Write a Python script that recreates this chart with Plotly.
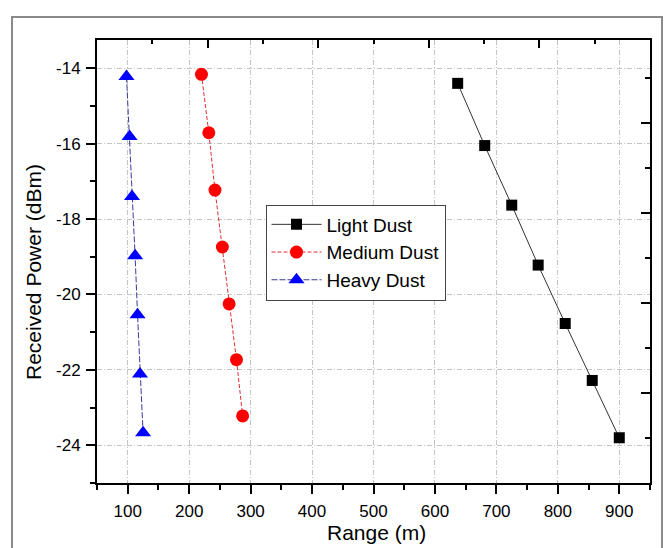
import plotly.graph_objects as go

# Received power versus link range for three dust densities
light_range = [637, 681, 725, 768, 812, 856, 900]
light_power = [-14.40, -16.05, -17.63, -19.22, -20.77, -22.28, -23.80]

medium_range = [220, 232, 242, 254, 265, 277, 287]
medium_power = [-14.16, -15.71, -17.23, -18.74, -20.25, -21.73, -23.22]

heavy_range = [98, 103, 107, 112, 116, 120, 125]
heavy_power = [-14.22, -15.81, -17.40, -18.97, -20.54, -22.11, -23.67]

x_ticks = [100, 200, 300, 400, 500, 600, 700, 800, 900]
x_ticktext = ["100", "200", "300", "400", "500", "600", "700", "800", "900"]
y_ticks = [-24, -22, -20, -18, -16, -14]
y_ticktext = ["-24", "-22", "-20", "-18", "-16", "-14"]

FONT = "Arial, Liberation Sans, sans-serif"
W, H = 664, 548
ML, MR, MT, MB = 97, 14, 40, 65
PW, PH = W - ML - MR, H - MT - MB


def px_x(px):
    return (px - ML) / PW


def px_y(py):
    return (MT + PH - py) / PH


fig = go.Figure()

fig.add_trace(go.Scatter(
    x=light_range, y=light_power, name="Light Dust", mode="lines+markers",
    line=dict(color="#333333", width=1),
    marker=dict(symbol="square", size=11, color="black"),
))
fig.add_trace(go.Scatter(
    x=medium_range, y=medium_power, name="Medium Dust", mode="lines+markers",
    line=dict(color="#e03030", width=1, dash="4px,2px"),
    marker=dict(symbol="circle", size=13, color="red"),
))
fig.add_trace(go.Scatter(
    x=heavy_range, y=heavy_power, name="Heavy Dust", mode="lines+markers",
    line=dict(color="#3a3a9a", width=1, dash="6px,2px"),
    marker=dict(symbol="triangle-up", size=14, color="blue"),
))

# empty traces so the frame axes on top and right are laid out
fig.add_trace(go.Scatter(x=[], y=[], xaxis="x2", yaxis="y", showlegend=False, hoverinfo="skip"))
fig.add_trace(go.Scatter(x=[], y=[], xaxis="x", yaxis="y2", showlegend=False, hoverinfo="skip"))

grid = dict(showgrid=True, gridcolor="#c4c4c4", gridwidth=1, griddash="5px,2px,1px,2px")

fig.update_layout(
    width=W, height=H,
    margin=dict(l=ML, r=MR, t=MT, b=MB),
    paper_bgcolor="white", plot_bgcolor="white",
    font=dict(family=FONT, color="black"),
    showlegend=True,
    legend=dict(
        x=px_x(265.5), y=px_y(204.5), xanchor="left", yanchor="top",
        bgcolor="white", bordercolor="#444444", borderwidth=1,
        font=dict(family=FONT, size=19, color="black"),
        tracegroupgap=0, itemwidth=50,
    ),
    xaxis=dict(
        range=[50, 950], tickmode="array", tickvals=x_ticks, ticktext=x_ticktext,
        ticks="outside", ticklen=9, tickwidth=2, tickcolor="black",
        minor=dict(ticks="outside", ticklen=5, tickwidth=2, tickcolor="black",
                   tickmode="linear", tick0=0, dtick=50, showgrid=False),
        showline=True, linewidth=2, linecolor="black", zeroline=False,
        tickfont=dict(family=FONT, size=17), ticklabelstandoff=3, automargin=False,
        **grid,
    ),
    yaxis=dict(
        range=[-25, -13.25], tickmode="array", tickvals=y_ticks, ticktext=y_ticktext,
        ticks="outside", ticklen=9, tickwidth=2, tickcolor="black",
        minor=dict(ticks="outside", ticklen=5, tickwidth=2, tickcolor="black",
                   tickmode="linear", tick0=0, dtick=1, showgrid=False),
        showline=True, linewidth=2, linecolor="black", zeroline=False,
        tickfont=dict(family=FONT, size=17), ticklabelstandoff=2, automargin=False,
        **grid,
    ),
    xaxis2=dict(
        overlaying="x", side="top", anchor="y", range=[0, 5], automargin=False,
        tickmode="linear", tick0=0, dtick=1, ticks="inside", ticklen=8, tickwidth=2,
        tickcolor="black",
        minor=dict(ticks="inside", ticklen=4, tickwidth=2, tickcolor="black",
                   tickmode="linear", tick0=0, dtick=0.5),
        showticklabels=False, showgrid=False, zeroline=False,
        showline=True, linewidth=2, linecolor="black",
    ),
    yaxis2=dict(
        overlaying="y", side="right", anchor="x", range=[0, PH / 90], automargin=False,
        tickmode="linear", tick0=0, dtick=1, ticks="inside", ticklen=9, tickwidth=2,
        tickcolor="black",
        minor=dict(ticks="inside", ticklen=5, tickwidth=2, tickcolor="black",
                   tickmode="linear", tick0=0, dtick=0.5),
        showticklabels=False, showgrid=False, zeroline=False,
        showline=True, linewidth=2, linecolor="black",
    ),
    annotations=[
        dict(
            text="Received Power (dBm)", textangle=-90, showarrow=False,
            xref="paper", yref="paper", x=px_x(33), y=px_y(272),
            xanchor="center", yanchor="middle",
            font=dict(family=FONT, size=21, color="black"),
        ),
        dict(
            text="Range (m)", showarrow=False,
            xref="paper", yref="paper", x=px_x(376), y=px_y(532),
            xanchor="center", yanchor="middle",
            font=dict(family=FONT, size=21, color="black"),
        ),
    ],
    shapes=[dict(
        type="rect", xref="paper", yref="paper",
        x0=px_x(12), x1=px_x(662), y0=-0.3, y1=px_y(17),
        line=dict(color="#8a8a8a", width=2), fillcolor="rgba(0,0,0,0)", layer="below",
    )],
)

fig.write_html("out.html")
